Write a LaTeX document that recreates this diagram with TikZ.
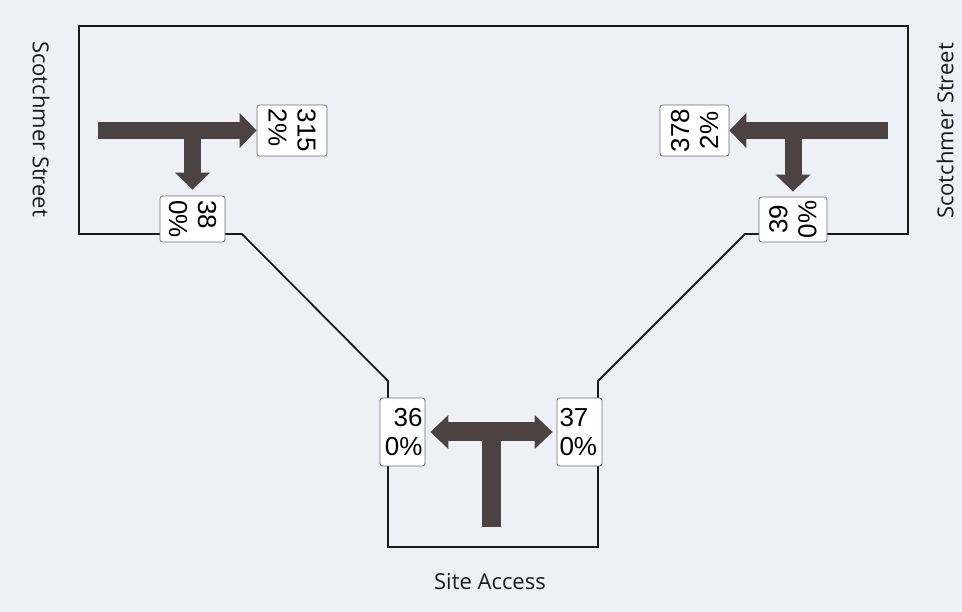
\documentclass[tikz,border=0pt]{standalone}
\usepackage{fontspec}
\setmainfont{Open Sans}
\newfontfamily\numfont{Liberation Sans}
\usetikzlibrary{arrows.meta,calc}

\definecolor{paper}{RGB}{237,240,246}
\definecolor{flow}{RGB}{76,66,66}
\definecolor{boxline}{RGB}{110,110,110}
\definecolor{labeltext}{RGB}{25,25,25}

\tikzset{
  road/.style={draw=black!90, line width=1.8pt, line join=miter},
  volbox/.style={draw=boxline, line width=0.8pt, fill=white, rounded corners=2.5pt,
    inner sep=1.5pt, font=\numfont\fontsize{26}{29}\selectfont},
  flowline/.style={draw=flow, line width=17pt},
  flowarrow/.style={flowline, -{Triangle[length=17pt,width=34pt]}},
  sitearrow/.style={draw=flow, line width=19pt, {Triangle[length=18pt,width=33pt]}-{Triangle[length=18pt,width=33pt]}},
  streetlabel/.style={text=labeltext, font=\fontsize{22}{25}\selectfont}
}

\begin{document}
\begin{tikzpicture}[x=1pt,y=-1pt]
  % canvas
  \fill[paper] (0,0) rectangle (962,612);
  \useasboundingbox (0,0) rectangle (962,612);

  % road outline: main street band and the site access leg
  \draw[road] (79,26) -- (908,26) -- (908,234) -- (745,234) -- (598,381)
    -- (598,547) -- (388,547) -- (388,381) -- (242,234) -- (79,234) -- cycle;

  % traffic volume boxes
  \node[volbox, rotate=-90, minimum width=51pt, minimum height=70pt, align=left]
    (b315) at (292,130.5) {315\\2\%};
  \node[volbox, rotate=-90, minimum width=46pt, minimum height=65pt, align=left]
    (b38) at (192.5,219) {38\\0\%};
  \node[volbox, rotate=90, minimum width=51pt, minimum height=69pt, align=center]
    (b378) at (694.5,130.5) {378\\2\%};
  \node[volbox, rotate=90, minimum width=45pt, minimum height=68pt, align=center]
    (b39) at (793,219.5) {39\\0\%};
  \node[volbox, minimum width=45pt, minimum height=68pt, text width=40pt, align=right]
    (b36) at (402.5,432) {36\\0\%};
  \node[volbox, minimum width=45pt, minimum height=68pt, text width=40pt, align=left]
    (b37) at (579.5,432) {37\\0\%};

  % turning movement arrows, west approach
  \coordinate (s1) at (98,130.5);
  \coordinate (j1) at (b38 |- s1);
  \draw[flowarrow] (s1) -- (b315);
  \draw[flowarrow, shorten >=6pt] (j1) -- (b38);

  % turning movement arrows, east approach
  \coordinate (s2) at (888,130.5);
  \coordinate (j2) at (b39 |- s2);
  \draw[flowarrow] (s2) -- (b378);
  \draw[flowarrow, shorten >=5pt] (j2) -- (b39);

  % turning movement arrows, site access
  \coordinate (j3) at (491.5,432);
  \coordinate (s3) at (491.5,527);
  \draw[draw=flow, line width=19pt] (s3) -- (j3);
  \draw[sitearrow, shorten <=5pt, shorten >=4pt] (b36) -- (b37);

  % street names
  \node[streetlabel, rotate=-90] (wname) at (41,129) {Scotchmer Street};
  \node[streetlabel, rotate=90] (ename) at (945,131) {Scotchmer Street};
  \node[streetlabel] (sname) at (490,582) {Site Access};
\end{tikzpicture}
\end{document}
